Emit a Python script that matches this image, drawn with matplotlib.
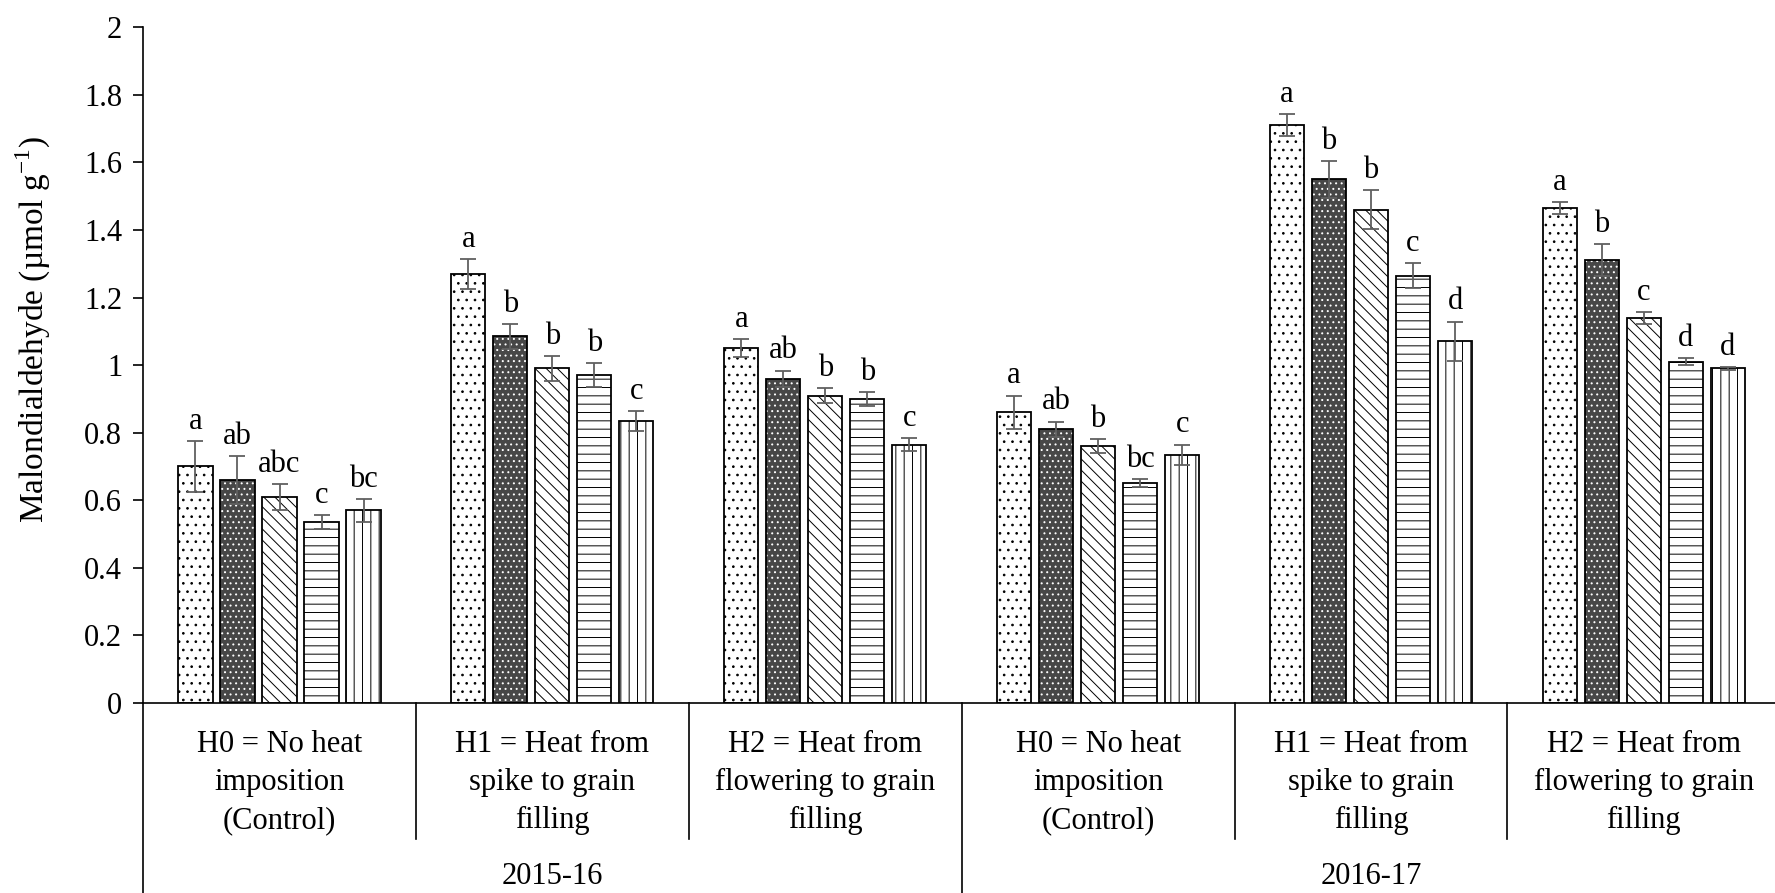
import matplotlib
matplotlib.use("Agg")
import matplotlib.pyplot as plt
import matplotlib.transforms as mtransforms
import numpy as np

# values (5 treatments per heat group)
years = ["2015-16", "2016-17"]
groups = ["H0 = No heat\nimposition\n(Control)",
          "H1 = Heat from\nspike to grain\nfilling",
          "H2 = Heat from\nflowering to grain\nfilling"] * 2

mda = [
    [0.70, 0.66, 0.61, 0.535, 0.57],
    [1.27, 1.085, 0.99, 0.97, 0.835],
    [1.05, 0.96, 0.91, 0.90, 0.765],
    [0.86, 0.81, 0.76, 0.65, 0.735],
    [1.71, 1.55, 1.46, 1.265, 1.07],
    [1.465, 1.31, 1.14, 1.01, 0.99],
]
err = [
    [0.075, 0.072, 0.038, 0.02, 0.034],
    [0.044, 0.037, 0.038, 0.036, 0.03],
    [0.027, 0.024, 0.022, 0.02, 0.02],
    [0.05, 0.023, 0.02, 0.012, 0.03],
    [0.032, 0.054, 0.057, 0.037, 0.059],
    [0.017, 0.047, 0.017, 0.01, 0.004],
]
letters = [
    ["a", "ab", "abc", "c", "bc"],
    ["a", "b", "b", "b", "c"],
    ["a", "ab", "b", "b", "c"],
    ["a", "ab", "b", "bc", "c"],
    ["a", "b", "b", "c", "d"],
    ["a", "b", "c", "d", "d"],
]

plt.rcParams['font.family'] = ['Liberation Serif', 'DejaVu Serif']
plt.rcParams['mathtext.fontset'] = 'custom'
plt.rcParams['mathtext.rm'] = 'Liberation Serif'
plt.rcParams['hatch.linewidth'] = 0.7

fs = 22
hatches = ['..', '...', '\\\\\\', '--', '||']
faces = ['white', '#474747', 'white', 'white', 'white']
hcols = ['black', 'white', 'black', 'black', 'black']

fig = plt.figure(figsize=(17.75, 8.93), dpi=100)
ax = fig.add_axes([0.0806, 0.2128, 0.9224, 0.7567])

mda = np.array(mda)
err = np.array(err)
x = np.arange(len(groups))
step = 0.154
width = 0.125

for k in range(5):
    xs = x + (k - 2) * step
    # fill + hatch, then a black outline on top
    ax.bar(xs, mda[:, k], width, color=faces[k], edgecolor=hcols[k],
           hatch=hatches[k], linewidth=0)
    ax.bar(xs, mda[:, k], width, color='none', edgecolor='black', linewidth=1.3)
    ax.errorbar(xs, mda[:, k], yerr=err[:, k], fmt='none', ecolor='#606060',
                elinewidth=1.3, capsize=5.5, capthick=1.3)
    for i in range(len(groups)):
        ax.text(xs[i], mda[i, k] + err[i, k] + 0.015, letters[i][k],
                ha='center', va='bottom', fontsize=fs)

ax.set_xlim(-0.5, len(groups) - 0.5)
ax.set_ylim(0, 2)
ax.set_yticks(np.arange(0, 2.01, 0.2))
ax.set_yticklabels(['{:g}'.format(round(v, 1)) for v in np.arange(0, 2.01, 0.2)])
ax.tick_params(axis='y', direction='out', length=7, width=1.2, labelsize=fs, pad=8)
ax.set_xticks([])
for s in ['top', 'right']:
    ax.spines[s].set_visible(False)
ax.spines['left'].set_linewidth(1.2)
ax.spines['bottom'].set_linewidth(1.2)

fig.text(0.019, 0.631, r'Malondialdehyde (µmol g$^{\mathregular{-1}}$)',
         rotation=90, ha='center', va='center', fontsize=24)

# category axis drawn below the plot
tr = mtransforms.blended_transform_factory(ax.transData, fig.transFigure)
for i, g in enumerate(groups):
    ax.text(x[i], 0.1235, g, transform=tr, ha='center', va='center',
            fontsize=fs, linespacing=1.42, clip_on=False)
for b in [0.5, 1.5, 3.5, 4.5]:
    ax.plot([b, b], [0.2128, 0.0605], color='black', lw=1.2, transform=tr, clip_on=False)
for b in [-0.5, 2.5]:
    ax.plot([b, b], [0.2128, 0.0], color='black', lw=1.2, transform=tr, clip_on=False)
for j, yr in enumerate(years):
    ax.text(1 + 3 * j, 0.018, yr, transform=tr, ha='center', va='center',
            fontsize=fs, clip_on=False)

fig.savefig("out.png", dpi=100)
